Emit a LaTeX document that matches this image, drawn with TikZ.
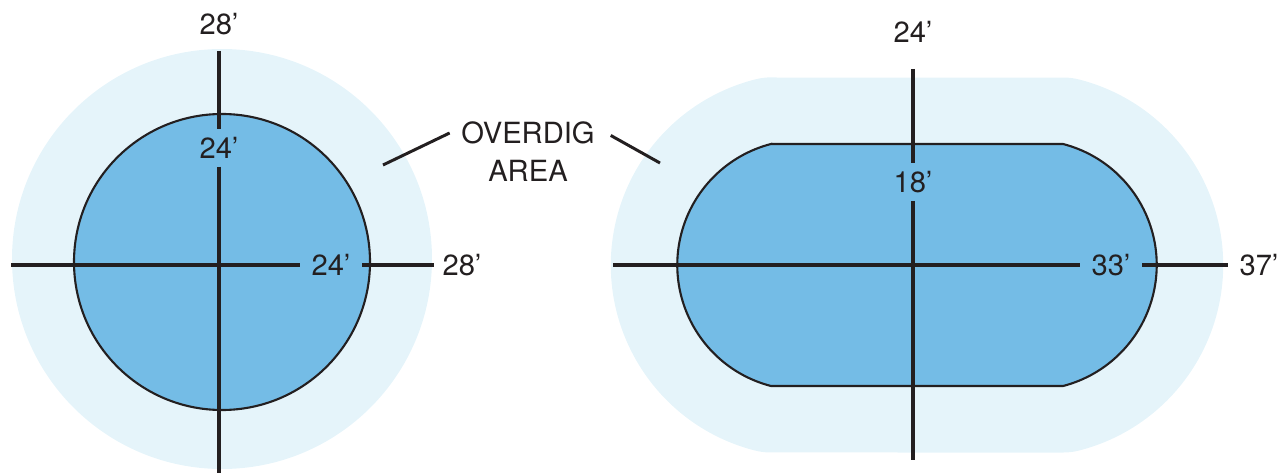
\documentclass[tikz,border=0pt]{standalone}
\usepackage{fontspec}
\setmainfont{TeX Gyre Heros}
\usetikzlibrary{positioning}
\definecolor{pitblue}{HTML}{74BCE6}
\definecolor{overblue}{HTML}{E5F4FA}
\definecolor{inkline}{HTML}{231F20}
\tikzset{
    axis/.style={inkline,line width=2.1pt},
    rim/.style={inkline,line width=1.2pt,fill=pitblue},
    dimlabel/.style={inner xsep=6.5pt,inner ysep=4.3pt,text=inkline,font=\fontsize{16.6}{20}\selectfont},
}
\begin{document}
\begin{tikzpicture}[x=0.02cm,y=-0.02cm]
                \useasboundingbox (0,0) rectangle (1286,473);
                %% round pit
                \fill[overblue] (222,259) circle (210);
                \draw[rim] (222,262) circle (148);
                \node[dimlabel] (rtop) at (219,24) {28'};
                \node[dimlabel] (rv24) at (219,148) {24'};
                \node[dimlabel] (rh24) at (331,265) {24'};
                \node[dimlabel] (rright) at (462,265) {28'};
                \coordinate (rN) at (219,51);
                \coordinate (rS) at (219,475);
                \coordinate (rW) at (11,265);
                \coordinate (rE) at (434,265);
                \draw[axis] (rN) -- (rv24) -- (rS);
                \draw[axis] (rW) -- (rh24) -- (rE);
                %% oval pit
                \draw[overblue,fill=overblue,line width=2.66cm,line join=round]
                    (771,144) -- (1063,144) arc[start angle=-75.5,end angle=75.5,radius=125]
                    -- (771,386) arc[start angle=104.5,end angle=255.5,radius=125] -- cycle;
                \draw[rim]
                    (771,144) -- (1063,144) arc[start angle=-75.5,end angle=75.5,radius=125]
                    -- (771,386) arc[start angle=104.5,end angle=255.5,radius=125] -- cycle;
                \node[dimlabel] (otop) at (913,32) {24'};
                \node[dimlabel] (ov18) at (913,182) {18'};
                \node[dimlabel] (oh33) at (1111,265) {33'};
                \node[dimlabel] (oright) at (1259,265) {37'};
                \coordinate (oN) at (913,69);
                \coordinate (oS) at (913,460);
                \coordinate (oW) at (613,265);
                \coordinate (oE) at (1228,265);
                \draw[axis] (oN) -- (ov18) -- (oS);
                \draw[axis] (oW) -- (oh33) -- (oE);
                %% overdig tag
                \node[dimlabel] (overdig) at (528,133) {OVERDIG};
                \node[dimlabel,below=0pt of overdig] (area) {AREA};
                \coordinate (tagL) at (383,165);
                \coordinate (tagR) at (660,163);
                \draw[axis,line width=1.7pt] (tagL) -- (overdig.west);
                \draw[axis,line width=1.7pt,shorten <=0.1cm] (overdig.east) -- (tagR);
            \end{tikzpicture}
\end{document}
